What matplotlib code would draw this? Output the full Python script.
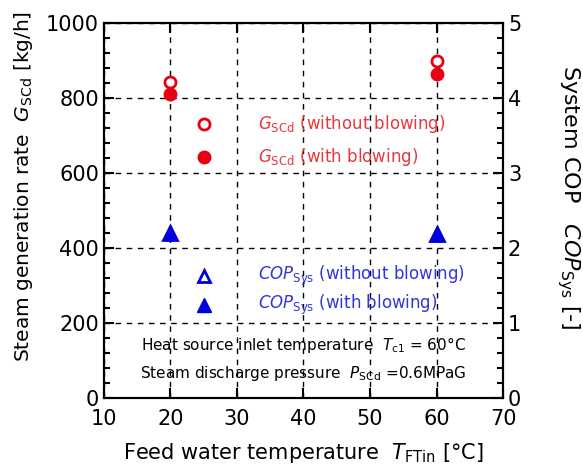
import matplotlib.pyplot as plt
from matplotlib.ticker import MultipleLocator

# Feed water temperature [°C]
feed_temp = [20, 60]
# Steam generation rate [kg/h]
g_without = [842, 899]
g_with = [811, 864]
# System COP [-]
cop_without = [2.2, 2.18]
cop_with = [2.2, 2.18]

red = "#e60012"
blue = "#0000dd"
red_txt = "#e8383d"
blue_txt = "#3434dc"

plt.rcParams['font.family'] = ['DejaVu Sans']
fig = plt.figure(figsize=(5.83, 4.68), dpi=100)
ax = fig.add_axes([0.178, 0.150, 0.685, 0.801])
ax2 = ax.twinx()

ax.plot(feed_temp, g_without, 'o', ms=8, mfc='white', mec=red, mew=2, ls='none', zorder=5)
ax.plot(feed_temp, g_with, 'o', ms=9, color=red, ls='none', zorder=5)
ax2.plot(feed_temp, cop_without, '^', ms=10, mfc='white', mec=blue, mew=2, ls='none')
ax2.plot(feed_temp, cop_with, '^', ms=10, color=blue, ls='none')

# manual legend
ax.plot(25, 731, 'o', ms=8, mfc='white', mec=red, mew=2)
ax.plot(25, 643, 'o', ms=9, color=red)
ax.plot(25, 325, '^', ms=9, mfc='white', mec=blue, mew=2)
ax.plot(25, 248, '^', ms=10, color=blue)
ax.text(33.2, 731, r"$G_{\mathrm{SCd}}$ (without blowing)", color=red_txt, fontsize=12, va='center')
ax.text(33.2, 643, r"$G_{\mathrm{SCd}}$ (with blowing)", color=red_txt, fontsize=12, va='center')
ax.text(33.2, 325, r"$COP_{\mathrm{Sys}}$ (without blowing)", color=blue_txt, fontsize=12, va='center')
ax.text(33.2, 248, r"$COP_{\mathrm{Sys}}$ (with blowing)", color=blue_txt, fontsize=12, va='center')

ax.text(40, 141, r"Heat source inlet temperature  $T_{\mathrm{c1}}$ = 60°C", fontsize=11, ha='center', va='center')
ax.text(40, 66, r"Steam discharge pressure  $P_{\mathrm{SCd}}$ =0.6MPaG", fontsize=11, ha='center', va='center')

ax.set_xlim(10, 70)
ax.set_ylim(0, 1000)
ax2.set_ylim(0, 5)
ax.xaxis.set_major_locator(MultipleLocator(10))
ax.yaxis.set_major_locator(MultipleLocator(200))
ax.yaxis.set_minor_locator(MultipleLocator(40))
ax2.yaxis.set_major_locator(MultipleLocator(1))
ax2.yaxis.set_minor_locator(MultipleLocator(0.2))

ax.grid(True, which='major', color='black', ls=(0, (4, 4)), lw=1)
ax.tick_params(which='both', direction='in', labelsize=15, top=True, width=1.5)
ax.tick_params(which='major', length=7)
ax.tick_params(which='minor', length=4)
ax.tick_params(axis='x', pad=8)
ax2.tick_params(which='both', direction='in', labelsize=15, width=1.5)
ax2.tick_params(which='major', length=7)
ax2.tick_params(which='minor', length=4)
for a in (ax, ax2):
    for s in a.spines.values():
        s.set_linewidth(1.5)

ax.set_xlabel(r"Feed water temperature  $T_{\mathrm{FTin}}$ [°C]", fontsize=15, labelpad=9)
ax.set_ylabel(r"Steam generation rate  $G_{\mathrm{SCd}}$ [kg/h]", fontsize=14.5, va='center')
ax.yaxis.set_label_coords(-0.2, 0.563)
ax2.set_ylabel(r"System COP   $COP_{\mathrm{Sys}}$ [-]", fontsize=16, rotation=270, va='center')
ax2.yaxis.set_label_coords(1.163, 0.536)

fig.savefig("out.png", dpi=100)
